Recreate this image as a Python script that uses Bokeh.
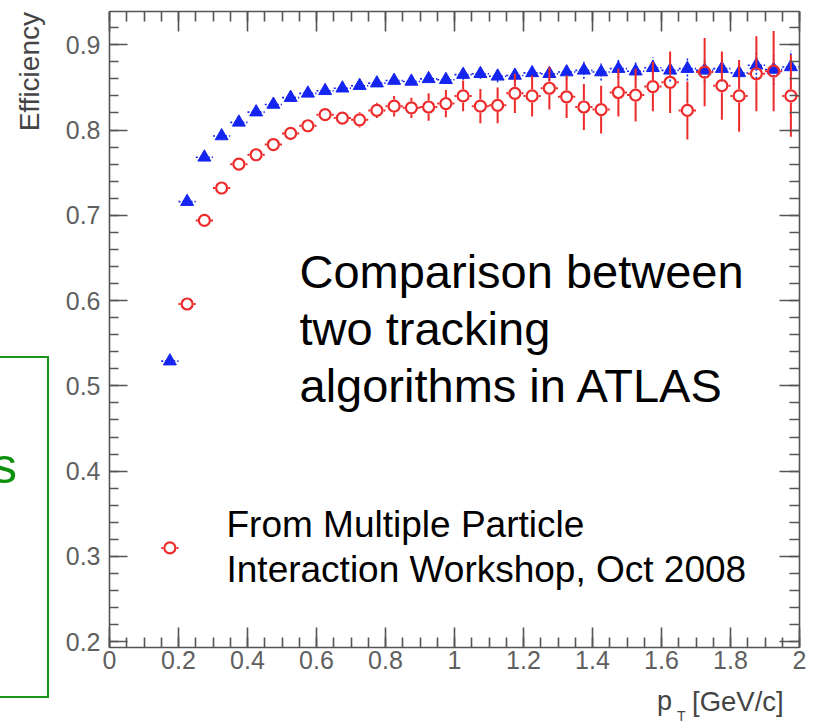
import numpy as np
from bokeh.plotting import figure
from bokeh.layouts import row, column
from bokeh.models import (Range1d, LinearAxis, SingleIntervalTicker,
                          CustomJSTickFormatter, Label, Div)
from bokeh.embed import file_html
from bokeh.resources import INLINE

# ---------------- data ----------------
pt = [0.175, 0.225, 0.275, 0.325, 0.375, 0.425, 0.475, 0.525, 0.575,
      0.625, 0.675, 0.725, 0.775, 0.825, 0.875, 0.925, 0.975, 1.025,
      1.075, 1.125, 1.175, 1.225, 1.275, 1.325, 1.375, 1.425, 1.475,
      1.525, 1.575, 1.625, 1.675, 1.725, 1.775, 1.825, 1.875, 1.925, 1.975]
bin_half_width = 0.025

eff_blue = [0.529, 0.716, 0.768, 0.793, 0.809, 0.821, 0.830, 0.838, 0.843,
            0.846, 0.849, 0.852, 0.855, 0.858, 0.857, 0.860, 0.859, 0.865,
            0.866, 0.863, 0.864, 0.867, 0.866, 0.868, 0.870, 0.868, 0.872,
            0.869, 0.873, 0.870, 0.872, 0.870, 0.872, 0.867, 0.876, 0.871, 0.874]
err_blue = [0.003, 0.003, 0.003, 0.003, 0.003, 0.003, 0.003, 0.003, 0.003,
            0.003, 0.003, 0.003, 0.003, 0.003, 0.003, 0.003, 0.003, 0.006,
            0.006, 0.007, 0.007, 0.008, 0.008, 0.009, 0.010, 0.010, 0.011,
            0.011, 0.012, 0.013, 0.014, 0.014, 0.015, 0.016, 0.016, 0.018, 0.019]

eff_red = [0.310, 0.596, 0.694, 0.732, 0.760, 0.771, 0.783, 0.796, 0.805,
           0.818, 0.814, 0.812, 0.823, 0.828, 0.826, 0.827, 0.831, 0.840,
           0.828, 0.829, 0.843, 0.840, 0.849, 0.839, 0.827, 0.824, 0.844,
           0.841, 0.851, 0.856, 0.823, 0.868, 0.852, 0.840, 0.866, 0.869, 0.840]
err_red = [0.003, 0.004, 0.004, 0.004, 0.005, 0.005, 0.005, 0.006, 0.006,
           0.007, 0.007, 0.009, 0.009, 0.012, 0.012, 0.016, 0.016, 0.018,
           0.020, 0.021, 0.023, 0.024, 0.025, 0.025, 0.027, 0.028, 0.028,
           0.031, 0.029, 0.036, 0.034, 0.040, 0.040, 0.042, 0.044, 0.047, 0.048]

x_tick_interval = 0.2
y_tick_interval = 0.1

title_lines = ["Comparison between", "two tracking", "algorithms in ATLAS"]
source_lines = ["From Multiple Particle", "Interaction Workshop, Oct 2008"]
y_title = "Efficiency"
x_title_main, x_title_sub, x_title_unit = "p", "T", "[GeV/c]"
slide_text = "s"

# ---------------- style ----------------
BLUE = "#1525f0"
RED = "#ee2a2a"
AXIS = "#555555"
LABEL = "#5f5f5f"
TITLE = "#444444"
GREEN = "#1a951a"
FONT = "Liberation Sans"

LEFT_W = 50          # left strip (html) width
BOTTOM_H = 39        # bottom strip (html) height
FIG_W, FIG_H = 815 - LEFT_W, 724 - BOTTOM_H
X0, X1 = 0.0, 2.0
Y0, Y1 = 0.1932, 0.939
FRAME_LEFT, FRAME_TOP = 109, 11      # page pixels
FRAME_RIGHT, FRAME_BOTTOM = 799, 647

p = figure(width=FIG_W, height=FIG_H, x_range=Range1d(X0, X1), y_range=Range1d(Y0, Y1),
           output_backend="svg", toolbar_location=None,
           min_border_left=FRAME_LEFT - LEFT_W, min_border_right=815 - FRAME_RIGHT,
           min_border_top=FRAME_TOP, min_border_bottom=FIG_H - FRAME_BOTTOM)
p.xgrid.visible = False
p.ygrid.visible = False
p.outline_line_color = None
p.background_fill_color = "white"
p.border_fill_color = "white"

x_fmt = CustomJSTickFormatter(code="return tick.toFixed(1).replace(/\\.0$/, '');")
y_fmt = CustomJSTickFormatter(code="return tick.toFixed(1);")


def style_axis(ax, ticker, major, minor, labels=True):
    ax.ticker = ticker
    ax.axis_line_color = AXIS
    ax.axis_line_width = 1.6
    ax.major_tick_line_color = AXIS
    ax.minor_tick_line_color = AXIS
    ax.major_tick_line_width = 1.6
    ax.minor_tick_line_width = 1.6
    ax.major_tick_in = major
    ax.major_tick_out = 0
    ax.minor_tick_in = minor
    ax.minor_tick_out = 0
    if labels:
        ax.major_label_text_font = FONT
        ax.major_label_text_font_size = "25px"
        ax.major_label_text_color = LABEL
    else:
        ax.major_label_text_font_size = "0px"
        ax.major_label_standoff = 0


style_axis(p.xaxis[0], SingleIntervalTicker(interval=x_tick_interval, num_minor_ticks=4), 20, 10)
p.xaxis[0].formatter = x_fmt
p.xaxis[0].major_label_standoff = 3
style_axis(p.yaxis[0], SingleIntervalTicker(interval=y_tick_interval, num_minor_ticks=5), 18, 9)
p.yaxis[0].formatter = y_fmt
p.yaxis[0].major_label_standoff = 9

top_axis = LinearAxis()
style_axis(top_axis, SingleIntervalTicker(interval=x_tick_interval, num_minor_ticks=4), 20, 10, labels=False)
p.add_layout(top_axis, "above")
right_axis = LinearAxis()
style_axis(right_axis, SingleIntervalTicker(interval=y_tick_interval, num_minor_ticks=5), 20, 10, labels=False)
p.add_layout(right_axis, "right")

x = np.array(pt)
yb = np.array(eff_blue)
eb = np.array(err_blue)
yr = np.array(eff_red)
er = np.array(err_red)

# blue series: dotted error bars + filled triangles
p.segment(x0=x - bin_half_width, x1=x + bin_half_width, y0=yb, y1=yb,
          line_color=BLUE, line_width=1.6, line_dash="2 2")
p.segment(x0=x, x1=x, y0=yb - eb, y1=yb + eb,
          line_color=BLUE, line_width=1.6, line_dash="2 2")
p.scatter(x, yb, marker="triangle", size=13, fill_color=BLUE, line_color=BLUE,
          line_width=1)

# red series: error bars stop at the hollow circle
frame_w = FRAME_RIGHT - FRAME_LEFT
frame_h = FRAME_BOTTOM - FRAME_TOP
r_px = 6.6
rx = r_px * (X1 - X0) / frame_w
ry = r_px * (Y1 - Y0) / frame_h
m = er > ry
p.segment(x0=x[m], x1=x[m], y0=yr[m] + ry, y1=yr[m] + er[m],
          line_color=RED, line_width=2)
p.segment(x0=x[m], x1=x[m], y0=yr[m] - er[m], y1=yr[m] - ry,
          line_color=RED, line_width=2)
p.segment(x0=x - bin_half_width, x1=x - rx, y0=yr, y1=yr, line_color=RED, line_width=2)
p.segment(x0=x + rx, x1=x + bin_half_width, y0=yr, y1=yr, line_color=RED, line_width=2)
p.scatter(x, yr, marker="circle", size=11, fill_color=None, line_color=RED,
          line_width=2.2)


# ---------------- annotations inside the frame (page pixel -> data) ----------------
def dx(px):
    return X0 + (px - FRAME_LEFT) * (X1 - X0) / frame_w


def dy(py):
    return Y1 - (py - FRAME_TOP) * (Y1 - Y0) / frame_h


def add_label(px, baseline_py, text, size_px):
    # place by visual baseline using middle alignment
    p.add_layout(Label(x=dx(px), y=dy(baseline_py - 0.35 * size_px), text=text,
                       text_font=FONT, text_font_size=f"{size_px}px",
                       text_color="black", text_align="left",
                       text_baseline="middle"))


for i, line in enumerate(title_lines):
    add_label(299, 287 + 57 * i, line, 47)

for i, line in enumerate(source_lines):
    add_label(226, 537 + 45 * i, line, 37)


# ---------------- outside texts (html strips) ----------------
def top_for(baseline, size):
    return baseline - 0.8465 * size


span = ("position:absolute;white-space:nowrap;line-height:1;"
        "font-family:'Liberation Sans',Arial,sans-serif;")

left_html = (
    f'<div style="position:relative;width:{LEFT_W}px;height:724px;overflow:visible;">'
    # y title, right end at the top (ROOT style), rotated to read upward
    f'<div style="{span}left:{16 - 300}px;top:12px;width:300px;text-align:right;'
    f'font-size:28px;color:{TITLE};transform-origin:100% 0;transform:rotate(-90deg);">{y_title}</div>'
    # green box of the slide
    f'<div style="position:absolute;left:-6px;top:356px;width:55px;height:342px;'
    f'border:2px solid {GREEN};box-sizing:border-box;"></div>'
    f'<div style="{span}left:-8px;top:{top_for(483, 50):.1f}px;font-size:50px;color:#0a900a;">{slide_text}</div>'
    '</div>'
)
bottom_html = (
    f'<div style="position:relative;width:{FIG_W}px;height:{BOTTOM_H}px;">'
    f'<div style="{span}left:{657 - LEFT_W}px;top:{top_for(711, 27) - FIG_H:.1f}px;'
    f'font-size:27px;color:{TITLE};">{x_title_main}</div>'
    f'<div style="{span}left:{677 - LEFT_W}px;top:{top_for(721, 14) - FIG_H:.1f}px;'
    f'font-size:14px;color:{TITLE};">{x_title_sub}</div>'
    f'<div style="{span}left:{692 - LEFT_W}px;top:{top_for(711, 27) - FIG_H:.1f}px;'
    f'font-size:27.5px;color:{TITLE};">{x_title_unit}</div>'
    '</div>'
)

left_div = Div(text=left_html, width=LEFT_W, height=724, margin=(0, 0, 0, 0))
bottom_div = Div(text=bottom_html, width=FIG_W, height=BOTTOM_H, margin=(0, 0, 0, 0))

layout = row(left_div, column(p, bottom_div, spacing=0), spacing=0)

open("out.html", "w").write(file_html(layout, INLINE))
